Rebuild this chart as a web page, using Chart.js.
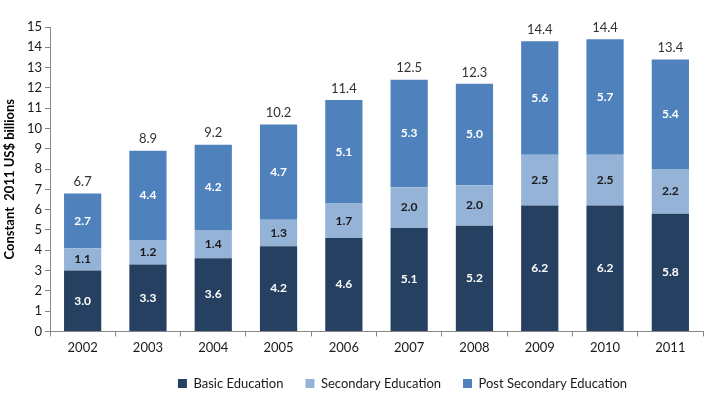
<!DOCTYPE html>
<html>
<head>
<meta charset="utf-8">
<script src="https://cdn.jsdelivr.net/npm/chart.js@4/dist/chart.umd.min.js"></script>
<style>
  html, body { margin: 0; padding: 0; background: #fff; }
  #wrap { width: 720px; height: 399px; }
</style>
</head>
<body>
<div id="wrap"><canvas id="eduChart"></canvas></div>
<script>
const years = ['2002', '2003', '2004', '2005', '2006', '2007', '2008', '2009', '2010', '2011'];
const basicEdu = [3.0, 3.3, 3.6, 4.2, 4.6, 5.1, 5.2, 6.2, 6.2, 5.8];
const secondaryEdu = [1.1, 1.2, 1.4, 1.3, 1.7, 2.0, 2.0, 2.5, 2.5, 2.2];
const postSecondaryEdu = [2.7, 4.4, 4.2, 4.7, 5.1, 5.3, 5.0, 5.6, 5.7, 5.4];
const totals = [6.7, 8.9, 9.2, 10.2, 11.4, 12.5, 12.3, 14.4, 14.4, 13.4];

const FONT = 'Lato, "Open Sans", sans-serif';

// draws the value inside each segment and the total on top of each stack
const labelPlugin = {
    id: 'barLabels',
    afterLayout(chart) {
        // legend sits a bit right of centre in the original
        chart.legend.left += 50;
        chart.legend.right += 50;
        chart.legend.top -= 5;
        chart.legend.bottom -= 5;
    },
    afterDatasetsDraw(chart) {
        const ctx = chart.ctx;
        ctx.save();
        ctx.textAlign = 'center';
        ctx.textBaseline = 'middle';
        chart.data.datasets.forEach((ds, i) => {
            const meta = chart.getDatasetMeta(i);
            ctx.font = 'bold 12px ' + FONT;
            ctx.fillStyle = i === 1 ? '#1a1a1a' : '#ffffff';
            meta.data.forEach((bar, j) => {
                const mid = (bar.y + bar.base) / 2;
                ctx.fillText(ds.data[j].toFixed(1), bar.x, mid);
            });
        });
        const top = chart.getDatasetMeta(chart.data.datasets.length - 1);
        ctx.font = '13px ' + FONT;
        ctx.fillStyle = '#333333';
        ctx.textBaseline = 'bottom';
        top.data.forEach((bar, j) => {
            ctx.fillText(totals[j].toFixed(1), bar.x, bar.y - 5);
        });
        ctx.restore();
    }
};

const ctx = document.getElementById('eduChart').getContext('2d');
const eduChart = new Chart(ctx, {
    type: 'bar',
    data: {
        labels: years,
        datasets: [{
            label: 'Basic Education',
            data: basicEdu,
            backgroundColor: '#264061'
        }, {
            label: 'Secondary Education',
            data: secondaryEdu,
            backgroundColor: '#95b3d7'
        }, {
            label: 'Post Secondary Education',
            data: postSecondaryEdu,
            backgroundColor: '#4f81bd'
        }]
    },
    options: {
        responsive: true,
        maintainAspectRatio: false,
        animation: false,
        categoryPercentage: 0.57,
        barPercentage: 1.0,
        layout: { padding: { top: 27, right: 17, left: 2, bottom: -6 } },
        plugins: {
            legend: {
                position: 'bottom',
                labels: {
                    boxWidth: 9,
                    boxHeight: 9,
                    padding: 22,
                    color: '#1a1a1a',
                    font: { family: FONT, size: 13 }
                }
            },
            tooltip: { enabled: false }
        },
        scales: {
            x: {
                stacked: true,
                grid: { drawOnChartArea: false, drawTicks: true, tickLength: 5, color: '#868686' },
                border: { color: '#868686' },
                ticks: { color: '#1a1a1a', font: { family: FONT, size: 13 }, padding: 4 }
            },
            y: {
                stacked: true,
                min: 0,
                max: 15,
                afterFit(scale) { scale.width = 48; },
                grid: { drawOnChartArea: false, drawTicks: true, tickLength: 5, color: '#868686' },
                border: { color: '#868686' },
                ticks: { stepSize: 1, color: '#1a1a1a', font: { family: FONT, size: 13 }, padding: 3 },
                title: {
                    display: true,
                    text: 'Constant  2011 US$ billions',
                    color: '#000',
                    font: { family: FONT, size: 13, weight: 'bold' },
                    padding: 0
                }
            }
        }
    },
    plugins: [labelPlugin]
});
</script>
</body>
</html>
